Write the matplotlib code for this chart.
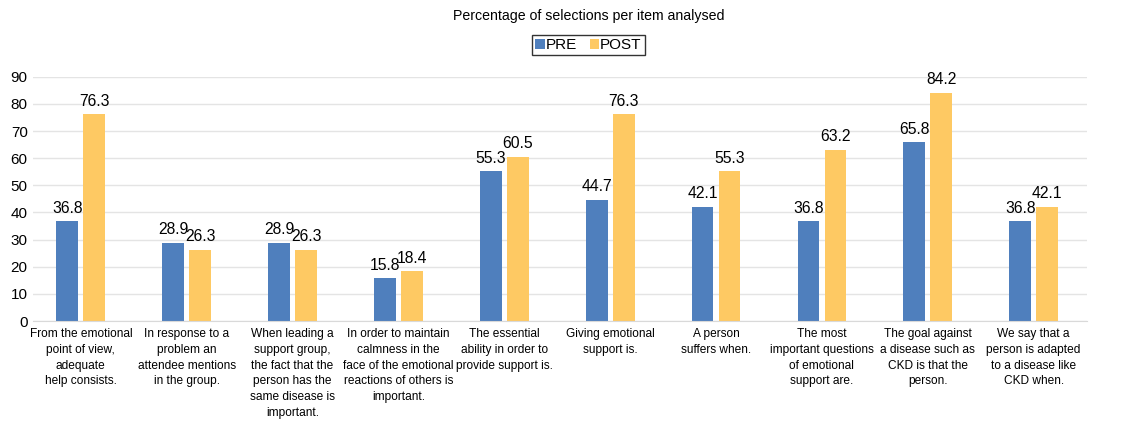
import matplotlib.pyplot as plt
import numpy as np

plt.rcParams["font.family"] = ["Liberation Sans", "DejaVu Sans"]

CATEGORIES = [
    "From the emotional\npoint of view,\nadequate\nhelp consists.",
    "In response to a\nproblem an\nattendee mentions\nin the group.",
    "When leading a\nsupport group,\nthe fact that the\nperson has the\nsame disease is\nimportant.",
    "In order to maintain\ncalmness in the\nface of the emotional\nreactions of others is\nimportant.",
    "The essential\nability in order to\nprovide support is.",
    "Giving emotional\nsupport is.",
    "A person\nsuffers when.",
    "The most\nimportant questions\nof emotional\nsupport are.",
    "The goal against\na disease such as\nCKD is that the\nperson.",
    "We say that a\nperson is adapted\nto a disease like\nCKD when.",
]
PRE = [36.8, 28.9, 28.9, 15.8, 55.3, 44.7, 42.1, 36.8, 65.8, 36.8]
POST = [76.3, 26.3, 26.3, 18.4, 60.5, 76.3, 55.3, 63.2, 84.2, 42.1]
Y_TICKS = [0, 10, 20, 30, 40, 50, 60, 70, 80, 90]

BLUE = "#4f7fbd"
YELLOW = "#fec963"

fig = plt.figure(figsize=(11.45, 4.21), dpi=100)
ax = fig.add_axes([0.029, 0.2375, 0.92, 0.58])

x = np.arange(len(CATEGORIES))
width = 0.205
gap = 0.025
pre_bars = ax.bar(x - width / 2 - gap, PRE, width, color=BLUE, label="PRE", zorder=2)
post_bars = ax.bar(x + width / 2 + gap, POST, width, color=YELLOW, label="POST", zorder=2)

for bars in (pre_bars, post_bars):
    for bar in bars:
        ax.text(
            bar.get_x() + bar.get_width() / 2,
            bar.get_height() + 2,
            f"{bar.get_height():.1f}",
            ha="center",
            va="bottom",
            fontsize=11.3,
        )

ax.set_xlim(-0.45, len(CATEGORIES) - 0.5)
ax.set_ylim(0, 90)
ax.set_yticks(Y_TICKS)
ax.set_xticks(x)
ax.set_xticklabels(CATEGORIES, fontsize=8.6, linespacing=1.42, va="top")
ax.tick_params(axis="x", length=0, pad=5)
ax.tick_params(axis="y", length=0, labelsize=11, pad=4)
for label in ax.get_yticklabels():
    label.set_horizontalalignment("right")

ax.grid(axis="y", color="#e4e4e4", linewidth=1, zorder=0)
for side in ("top", "right", "left"):
    ax.spines[side].set_visible(False)
ax.spines["bottom"].set_color("#d9d9d9")

fig.text(0.514, 0.962, "Percentage of selections per item analysed",
         ha="center", va="center", fontsize=10.2)

fig.legend(
    loc="center",
    bbox_to_anchor=(0.514, 0.893),
    ncol=2,
    frameon=True,
    fancybox=False,
    edgecolor="black",
    fontsize=11,
    handlelength=0.6,
    handleheight=0.6,
    handletextpad=0.1,
    columnspacing=0.8,
    borderpad=0.2,
    borderaxespad=0,
)

fig.savefig("out.png", dpi=100)
